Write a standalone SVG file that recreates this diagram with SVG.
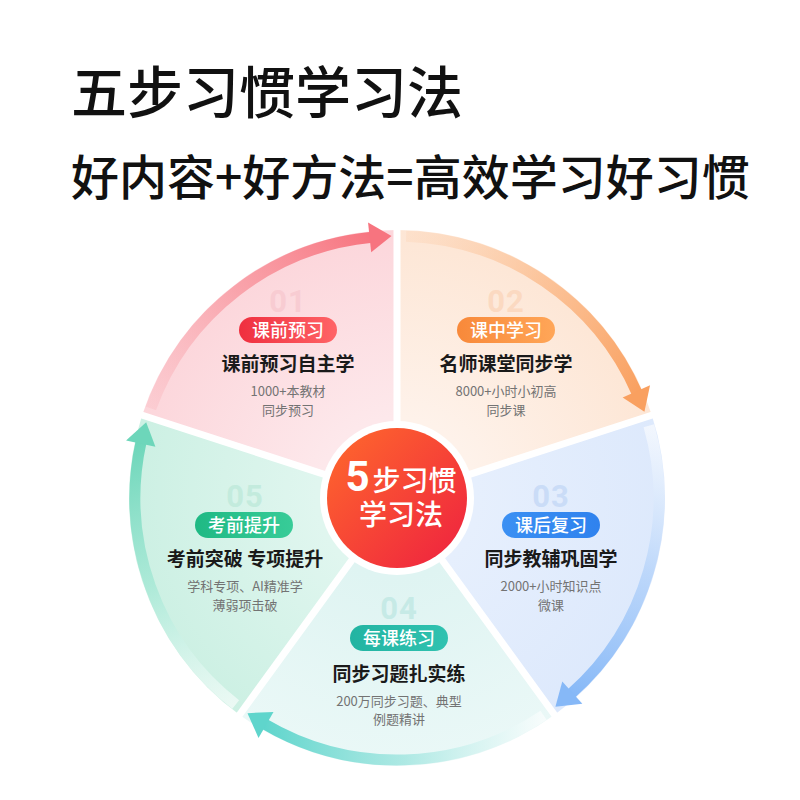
<svg xmlns="http://www.w3.org/2000/svg" width="800" height="800" viewBox="0 0 800 800">
<defs>
  <style>
    .t{font-family:"Noto Sans CJK SC","Noto Sans",sans-serif;}
    .h1{font-size:56px;font-weight:500;fill:#111;}
    .h2{font-size:48px;font-weight:500;fill:#111;}
    .num{font-family:Roboto,"Noto Sans",sans-serif;font-size:31px;font-weight:700;text-anchor:middle;letter-spacing:1px;}
    .pill{font-size:18px;font-weight:500;fill:#fff;text-anchor:middle;}
    .ttl{font-size:19px;font-weight:700;fill:#1a1a1a;text-anchor:middle;}
    .sub{font-size:13px;fill:#737373;text-anchor:middle;}
    .ctr{fill:#fff;text-anchor:middle;font-weight:500;}
  </style>
  <radialGradient id="s1" gradientUnits="userSpaceOnUse" cx="397" cy="498" r="268">
    <stop offset="0.3" stop-color="#fde8eb"/><stop offset="1" stop-color="#fcd6db"/>
  </radialGradient>
  <radialGradient id="s2" gradientUnits="userSpaceOnUse" cx="397" cy="498" r="268">
    <stop offset="0.3" stop-color="#fef2ea"/><stop offset="1" stop-color="#fde6d5"/>
  </radialGradient>
  <radialGradient id="s3" gradientUnits="userSpaceOnUse" cx="397" cy="498" r="268">
    <stop offset="0.3" stop-color="#e6effd"/><stop offset="1" stop-color="#dde9fc"/>
  </radialGradient>
  <radialGradient id="s4" gradientUnits="userSpaceOnUse" cx="397" cy="498" r="268">
    <stop offset="0.3" stop-color="#dff4f2"/><stop offset="1" stop-color="#eaf8f7"/>
  </radialGradient>
  <radialGradient id="s5" gradientUnits="userSpaceOnUse" cx="397" cy="498" r="268">
    <stop offset="0.3" stop-color="#e0f6ef"/><stop offset="1" stop-color="#ccf0e3"/>
  </radialGradient>
  <linearGradient id="a1" gradientUnits="userSpaceOnUse" x1="150.8" y1="408.4" x2="372" y2="237">
    <stop offset="0" stop-color="#f9a3ab" stop-opacity="0.2"/><stop offset="0.5" stop-color="#f88e97" stop-opacity="0.7"/><stop offset="1" stop-color="#f7747f"/>
  </linearGradient>
  <linearGradient id="a2" gradientUnits="userSpaceOnUse" x1="150.8" y1="408.4" x2="372" y2="237">
    <stop offset="0" stop-color="#fcc9a2" stop-opacity="0.2"/><stop offset="0.5" stop-color="#fbb47f" stop-opacity="0.7"/><stop offset="1" stop-color="#f9a060"/>
  </linearGradient>
  <linearGradient id="a3" gradientUnits="userSpaceOnUse" x1="150.8" y1="408.4" x2="372" y2="237">
    <stop offset="0" stop-color="#ffffff" stop-opacity="0.6"/><stop offset="0.5" stop-color="#b5d3fa" stop-opacity="0.8"/><stop offset="1" stop-color="#86b8f7"/>
  </linearGradient>
  <linearGradient id="a4" gradientUnits="userSpaceOnUse" x1="150.8" y1="408.4" x2="372" y2="237">
    <stop offset="0" stop-color="#ffffff" stop-opacity="0.6"/><stop offset="0.5" stop-color="#9fe5df" stop-opacity="0.8"/><stop offset="1" stop-color="#5fd5cc"/>
  </linearGradient>
  <linearGradient id="a5" gradientUnits="userSpaceOnUse" x1="150.8" y1="408.4" x2="372" y2="237">
    <stop offset="0" stop-color="#ffffff" stop-opacity="0.6"/><stop offset="0.5" stop-color="#a5e8d5" stop-opacity="0.8"/><stop offset="1" stop-color="#6dd6ba"/>
  </linearGradient>
  <linearGradient id="p1" x1="0" y1="0" x2="1" y2="0">
    <stop offset="0" stop-color="#ef2f3f"/><stop offset="1" stop-color="#ff6467"/>
  </linearGradient>
  <linearGradient id="p2" x1="0" y1="0" x2="1" y2="0">
    <stop offset="0" stop-color="#f8893a"/><stop offset="1" stop-color="#ffa658"/>
  </linearGradient>
  <linearGradient id="p3" x1="0" y1="0" x2="1" y2="0">
    <stop offset="0" stop-color="#3b90f3"/><stop offset="1" stop-color="#2f82ee"/>
  </linearGradient>
  <linearGradient id="p4" x1="0" y1="0" x2="1" y2="0">
    <stop offset="0" stop-color="#22b4a2"/><stop offset="1" stop-color="#30c2b0"/>
  </linearGradient>
  <linearGradient id="p5" x1="0" y1="0" x2="1" y2="0">
    <stop offset="0" stop-color="#1fb984"/><stop offset="1" stop-color="#38cc98"/>
  </linearGradient>
  <linearGradient id="cg" x1="0" y1="0" x2="1" y2="1">
    <stop offset="0" stop-color="#ff6a2c"/><stop offset="1" stop-color="#ee2040"/>
  </linearGradient>
  <path id="sector" d="M397,498 L142.12,415.18 A268,268 0 0 1 397,230 Z"/>
  <g id="arrow">
    <path d="M150.8,408.39 A262,262 0 0 1 371.89,237.21" fill="none" stroke-width="11"/>
    <polygon points="391.51,236.06 368.05,222.52 371.18,252.35" stroke="none"/>
  </g>
</defs>

<rect width="800" height="800" fill="#fff"/>

<g id="title" class="t">
  <text class="h1" x="71" y="113">五步习惯学习法</text>
  <text class="h2" x="71" y="195">好内容+好方法=高效学习好习惯</text>
</g>

<g id="sectors">
  <use href="#sector" fill="url(#s1)"/>
  <use href="#sector" fill="url(#s2)" transform="rotate(72 397 498)"/>
  <use href="#sector" fill="url(#s3)" transform="rotate(144 397 498)"/>
  <use href="#sector" fill="url(#s4)" transform="rotate(216 397 498)"/>
  <use href="#sector" fill="url(#s5)" transform="rotate(288 397 498)"/>
  <g stroke="#fff" stroke-width="7">
    <line x1="397" y1="498" x2="397" y2="223"/>
    <line x1="397" y1="498" x2="658.54" y2="413.02"/>
    <line x1="397" y1="498" x2="558.64" y2="720.48"/>
    <line x1="397" y1="498" x2="235.36" y2="720.48"/>
    <line x1="397" y1="498" x2="135.46" y2="413.02"/>
  </g>
</g>

<g id="connectors">
  <use href="#arrow" stroke="url(#a1)" fill="#f7747f"/>
  <use href="#arrow" stroke="url(#a2)" fill="#f9a060" transform="rotate(72 397 498)"/>
  <use href="#arrow" stroke="url(#a3)" fill="#86b8f7" transform="rotate(144 397 498)"/>
  <use href="#arrow" stroke="url(#a4)" fill="#5fd5cc" transform="rotate(216 397 498)"/>
  <use href="#arrow" stroke="url(#a5)" fill="#6dd6ba" transform="rotate(288 397 498)"/>
</g>

<g id="node1" class="t">
  <text class="num" x="288" y="312" fill="#f8ccd2">01</text>
  <rect x="239" y="317" width="98" height="26" rx="13" fill="url(#p1)"/>
  <text class="t pill" x="288" y="336.5">课前预习</text>
  <text class="t ttl" x="288" y="371">课前预习自主学</text>
  <text class="t sub" x="288" y="396">1000+本教材</text>
  <text class="t sub" x="288" y="415">同步预习</text>
</g>

<g id="node2" class="t">
  <text class="num" x="506" y="312" fill="#fbd9c1">02</text>
  <rect x="457" y="317" width="98" height="26" rx="13" fill="url(#p2)"/>
  <text class="t pill" x="506" y="336.5">课中学习</text>
  <text class="t ttl" x="506" y="371">名师课堂同步学</text>
  <text class="t sub" x="506" y="396">8000+小时小初高</text>
  <text class="t sub" x="506" y="415">同步课</text>
</g>

<g id="node3" class="t">
  <text class="num" x="551" y="507" fill="#cadcf7">03</text>
  <rect x="502" y="512" width="98" height="26" rx="13" fill="url(#p3)"/>
  <text class="t pill" x="551" y="531.5">课后复习</text>
  <text class="t ttl" x="551" y="566">同步教辅巩固学</text>
  <text class="t sub" x="551" y="591">2000+小时知识点</text>
  <text class="t sub" x="551" y="610">微课</text>
</g>

<g id="node4" class="t">
  <text class="num" x="399" y="619" fill="#c6eae6">04</text>
  <rect x="350" y="625" width="98" height="26" rx="13" fill="url(#p4)"/>
  <text class="t pill" x="399" y="644.5">每课练习</text>
  <text class="t ttl" x="399" y="681">同步习题扎实练</text>
  <text class="t sub" x="399" y="706">200万同步习题、典型</text>
  <text class="t sub" x="399" y="724">例题精讲</text>
</g>

<g id="node5" class="t">
  <text class="num" x="245" y="507" fill="#c3ebdd">05</text>
  <rect x="195" y="512" width="98" height="26" rx="13" fill="url(#p5)"/>
  <text class="t pill" x="244" y="531.5">考前提升</text>
  <text class="t ttl" x="245" y="566">考前突破 专项提升</text>
  <text class="t sub" x="245" y="591">学科专项、AI精准学</text>
  <text class="t sub" x="245" y="610">薄弱项击破</text>
</g>

<g id="center" class="t">
  <circle cx="397" cy="498" r="77" fill="#fff"/>
  <circle cx="397" cy="498" r="70" fill="url(#cg)"/>
  <text class="ctr" x="401" y="491"><tspan font-size="42" font-weight="700" font-family="Roboto,'Noto Sans',sans-serif">5</tspan><tspan font-size="28" dx="3">步习惯</tspan></text>
  <text class="ctr" x="401" y="525" font-size="28">学习法</text>
</g>
</svg>
